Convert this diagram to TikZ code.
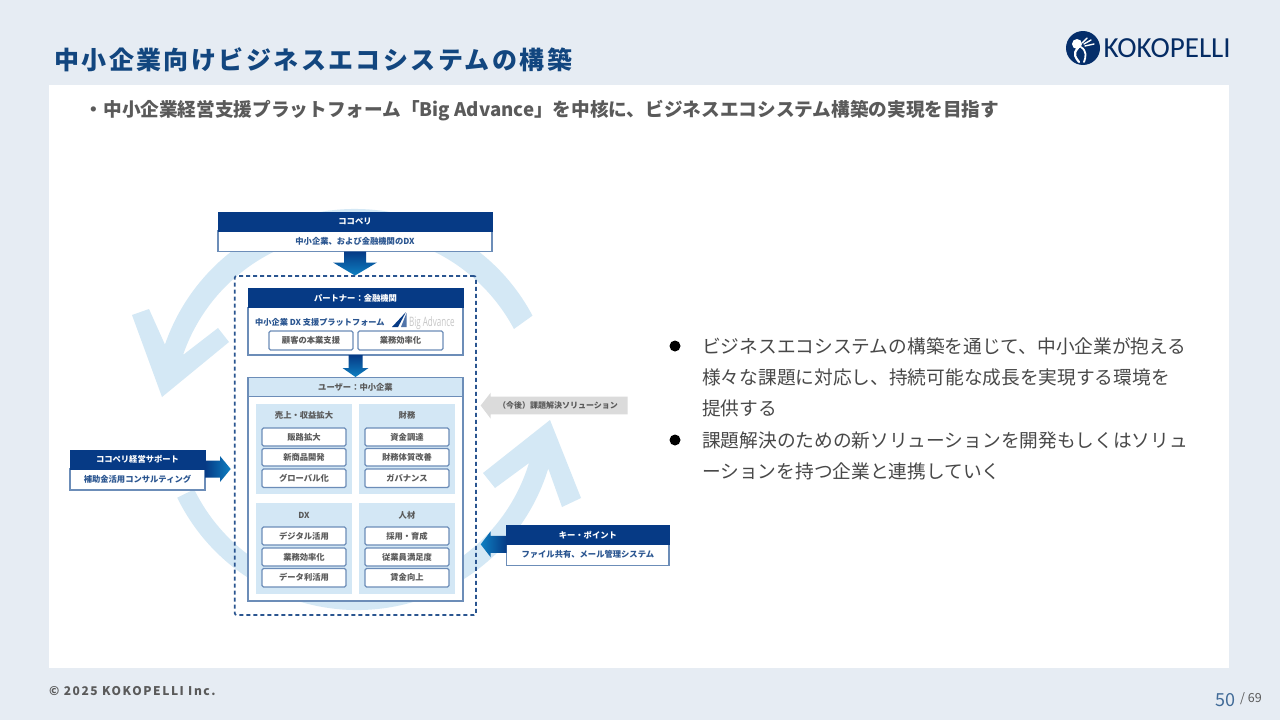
\documentclass[tikz,border=0pt]{standalone}
\usepackage{fontspec}
\usetikzlibrary{calc}
\newfontfamily\jp{Noto Sans CJK JP}
\newfontfamily\jpt[LetterSpace=9.7]{Noto Sans CJK JP}
\newfontfamily\jpf[LetterSpace=13]{Noto Sans CJK JP}
\newfontfamily\logof{Carlito}
\newfontfamily\bigadv{Open Sans}
\definecolor{pagebg}{HTML}{E6ECF3}
\definecolor{navy}{HTML}{063A85}
\definecolor{titleblue}{HTML}{12467F}
\definecolor{edge}{HTML}{6C8DB8}
\definecolor{sky}{HTML}{D3E7F5}
\definecolor{arcblue}{HTML}{D4E8F5}
\definecolor{ink}{HTML}{5A5A5A}
\definecolor{bodyink}{HTML}{484848}
\definecolor{boxink}{HTML}{2A5590}
\definecolor{tipblue}{HTML}{0E80C2}
\tikzset{
  box/.style={inner sep=0pt,outer sep=0pt,align=center},
  hdr/.style={box,fill=navy,draw=navy,line width=.8pt,text=white,font=\jp\bfseries\fontsize{8.3}{10}\selectfont},
  body/.style={box,fill=white,draw=edge,line width=1.2pt,text=boxink,font=\jp\bfseries\fontsize{8.3}{10}\selectfont},
  skyhdr/.style={box,fill=sky,draw=edge,line width=1.2pt,text=ink,font=\jp\bfseries\fontsize{8.3}{10}\selectfont},
  panel/.style={box,fill=sky},
  item/.style={box,fill=white,draw=edge,line width=1.2pt,rounded corners=1.5pt,text=ink,font=\jp\bfseries\fontsize{8.3}{10}\selectfont},
  plabel/.style={text=ink,font=\jp\bfseries\fontsize{8.3}{10}\selectfont,inner sep=0pt},
  bodytext/.style={anchor=west,inner sep=0pt,text=bodyink,font=\jp\fontsize{18.7}{22}\selectfont},
}
% optional style, name, x1, y1, x2, y2, text
\newcommand\bx[7][]{%
  \pgfmathsetmacro\bxw{#5-#3}\pgfmathsetmacro\bxh{#6-#4}%
  \pgfmathsetmacro\bxx{(#3+#5)/2}\pgfmathsetmacro\bxy{(#4+#6)/2}%
  \node[#1,minimum width=\bxw pt,minimum height=\bxh pt] (#2) at (\bxx,\bxy) {#7};}
\begin{document}
\begin{tikzpicture}[x=1pt,y=-1pt]
\useasboundingbox (0,0) rectangle (1280,720);
\fill[pagebg] (0,0) rectangle (1280,720);
\node[box,fill=white,minimum width=1180pt,minimum height=583pt] (sheet) at (639,376.5) {};

% title and lead
\node[anchor=west,inner sep=0pt,text=titleblue,font=\jpt\bfseries\fontsize{25}{30}\selectfont] (title) at (54,60) {中小企業向けビジネスエコシステムの構築};
\node[anchor=west,inner sep=0pt,text=ink,font=\jp\bfseries\fontsize{18.65}{24}\selectfont] (lead) at (84.5,111) {・中小企業経営支援プラットフォーム「Big Advance」を中核に、ビジネスエコシステム構築の実現を目指す};

% logo
\fill[navy!80!black] (1083,48) circle[radius=17pt];
\begin{scope}[white,line cap=round]
  \fill (1077,44) circle[radius=5pt];
  \draw[line width=2.2pt] (1078,48) .. controls (1072,54) and (1076,58) .. (1079,62);
  \draw[line width=1.8pt] (1081,47) .. controls (1087,51) and (1086,57) .. (1084,62);
  \draw[line width=1.4pt] (1082,43) -- (1087,38);
  \draw[line width=1.4pt] (1084,44) -- (1091,40);
  \draw[line width=1.4pt] (1085,46) -- (1094,44);
\end{scope}
\node[anchor=west,inner sep=0pt,text=navy!75!black,font=\logof\fontsize{29.1}{34}\selectfont] (logo) at (1103.5,48) {KOKOPELLI};

% footer
\node[anchor=west,inner sep=0pt,text=ink,font=\jpf\bfseries\fontsize{12}{14}\selectfont] (copy) at (49,691) {© 2025 KOKOPELLI Inc.};
\node[anchor=east,inner sep=0pt,text=titleblue!80,font=\jp\fontsize{18}{20}\selectfont] (pg) at (1236,700) {50};
\node[anchor=west,inner sep=0pt,text=ink,font=\jp\fontsize{12.5}{14}\selectfont] (pgt) at (1240,699) {/ 69};

% big circular arrows
\coordinate (C) at (355,410);
\coordinate (D) at (357,410);
\fill[arcblue] (C) ++(28:201pt) arc[start angle=28,end angle=161,radius=201pt]
  -- (149,309) -- (132,315) -- (162,397) -- (229,342) -- (218,328) -- (183,355)
  arc[start angle=161,end angle=28,radius=181pt] -- cycle;
\fill[arcblue] (D) ++(206:200pt) arc[start angle=206,end angle=343,radius=200pt]
  -- (562,507) -- (581,498) -- (550,420) -- (483,473) -- (495,488) -- (529,463)
  arc[start angle=343,end angle=206,radius=180.5pt] -- cycle;

% top box
\bx[body]{kokob}{218}{231}{492}{251.5}{中小企業、および金融機関のDX}
\bx[hdr]{kokoh}{218}{212.5}{492}{231}{ココペリ}
\shade[top color=navy,bottom color=tipblue] (kokob.south) ++(-11,0) -- ++(0,11) -- ++(-11,0) -- ++(22,13) -- ++(22,-13) -- ++(-11,0) -- ++(0,-11) -- cycle;

% dashed frame
\bx[box,draw=boxink,line width=1.7pt,dash pattern=on 4pt off 3pt,rounded corners=2pt]{frame}{234.7}{276}{476}{615}{}

% partner
\bx[body]{partb}{248}{307.5}{463}{355}{}
\bx[hdr]{parth}{248}{288.7}{463}{307.5}{パートナー：金融機関}
\node[anchor=west,inner sep=0pt,text=boxink,font=\jp\bfseries\fontsize{8.2}{10}\selectfont] (ptxt) at (255,322) {中小企業 DX 支援プラットフォーム};
\fill[navy] (406,312) -- (392,327) -- (398,327) -- cycle;
\fill[navy!70] (406.5,313) -- (401,327) -- (406.5,327) -- cycle;
\node[anchor=west,inner sep=0pt,text=black!22,xscale=.62,font=\bigadv\fontsize{13}{15}\selectfont] (badv) at (409,323) {Big Advance};
\bx[item,text=ink]{p1}{269}{331}{353}{350}{顧客の本業支援}
\bx[item,text=ink]{p2}{358}{331}{443}{350}{業務効率化}

% partner to user arrow
\shade[top color=navy,bottom color=tipblue] (partb.south) ++(-7,0) -- ++(0,13) -- ++(-6,0) -- ++(13,9) -- ++(13,-9) -- ++(-6,0) -- ++(0,-13) -- cycle;

% user
\bx[box,fill=white,draw=edge,line width=1.2pt]{userb}{248}{396.5}{463}{601}{}
\bx[skyhdr]{userh}{248}{377.7}{463}{396.5}{ユーザー：中小企業}

\bx[panel]{pa}{256}{404}{352}{494}{}
\bx[panel]{pb}{359}{404}{455}{494}{}
\bx[panel]{pc}{256}{503}{352}{594}{}
\bx[panel]{pd}{359}{503}{455}{594}{}
\node[plabel] (la) at (304,415) {売上・収益拡大};
\node[plabel] (lb) at (407,415) {財務};
\node[plabel] (lc) at (304,515) {DX};
\node[plabel] (ld) at (407,515) {人材};

\bx[item]{a1}{262}{428}{346}{446}{販路拡大}
\bx[item]{a2}{262}{448.5}{346}{466}{新商品開発}
\bx[item]{a3}{262}{469}{346}{487.5}{グローバル化}
\bx[item]{b1}{365}{428}{449}{446}{資金調達}
\bx[item]{b2}{365}{448.5}{449}{466}{財務体質改善}
\bx[item]{b3}{365}{469}{449}{487.5}{ガバナンス}
\bx[item]{c1}{262}{527}{346}{545}{デジタル活用}
\bx[item]{c2}{262}{548}{346}{566}{業務効率化}
\bx[item]{c3}{262}{568.5}{346}{587}{データ利活用}
\bx[item]{d1}{365}{527}{449}{545}{採用・育成}
\bx[item]{d2}{365}{548}{449}{566}{従業員満足度}
\bx[item]{d3}{365}{568.5}{449}{587}{賃金向上}

% left box
\bx[body]{leftb}{70}{469}{205}{490}{補助金活用コンサルティング}
\bx[hdr]{lefth}{70}{450}{205}{469}{ココペリ経営サポート}
\coordinate (leftm) at (205,469);
\shade[left color=navy,right color=tipblue] (leftm) ++(0,-8.5) -- ++(15,0) -- ++(0,-4.5) -- ++(10.7,13) -- ++(-10.7,13) -- ++(0,-4.5) -- ++(-15,0) -- cycle;

% right box
\bx[body]{rightb}{506.7}{544}{669}{565.5}{ファイル共有、メール管理システム}
\bx[hdr]{righth}{506.7}{525.7}{669}{544}{キー・ポイント}
\coordinate (rightm) at (506.7,544.3);
\shade[right color=navy,left color=tipblue] (rightm) ++(0,-8.5) -- ++(-16,0) -- ++(0,-4.5) -- ++(-10,13) -- ++(10,13) -- ++(0,-4.5) -- ++(16,0) -- cycle;

% grey solution arrow
\fill[black!14] (480.7,405.5) -- (490.7,392.7) -- (490.7,396.7) -- (627.7,396.7) -- (627.7,414.3) -- (490.7,414.3) -- (490.7,418.7) -- cycle;
\node[inner sep=0pt,text=ink,font=\jp\bfseries\fontsize{8}{10}\selectfont] (sol) at (558,405.5) {（今後）課題解決ソリューション};

% right-hand text
\fill[black] (675,346) circle[radius=5.5pt];
\fill[black] (675,440) circle[radius=5.5pt];
\node[bodytext] (t1) at (702,346) {ビジネスエコシステムの構築を通じて、中小企業が抱える};
\node[bodytext] (t2) at (702,377) {様々な課題に対応し、持続可能な成長を実現する環境を};
\node[bodytext] (t3) at (702,408) {提供する};
\node[bodytext] (t4) at (702,440) {課題解決のための新ソリューションを開発もしくはソリュ};
\node[bodytext] (t5) at (702,471) {ーションを持つ企業と連携していく};
\end{tikzpicture}
\end{document}
